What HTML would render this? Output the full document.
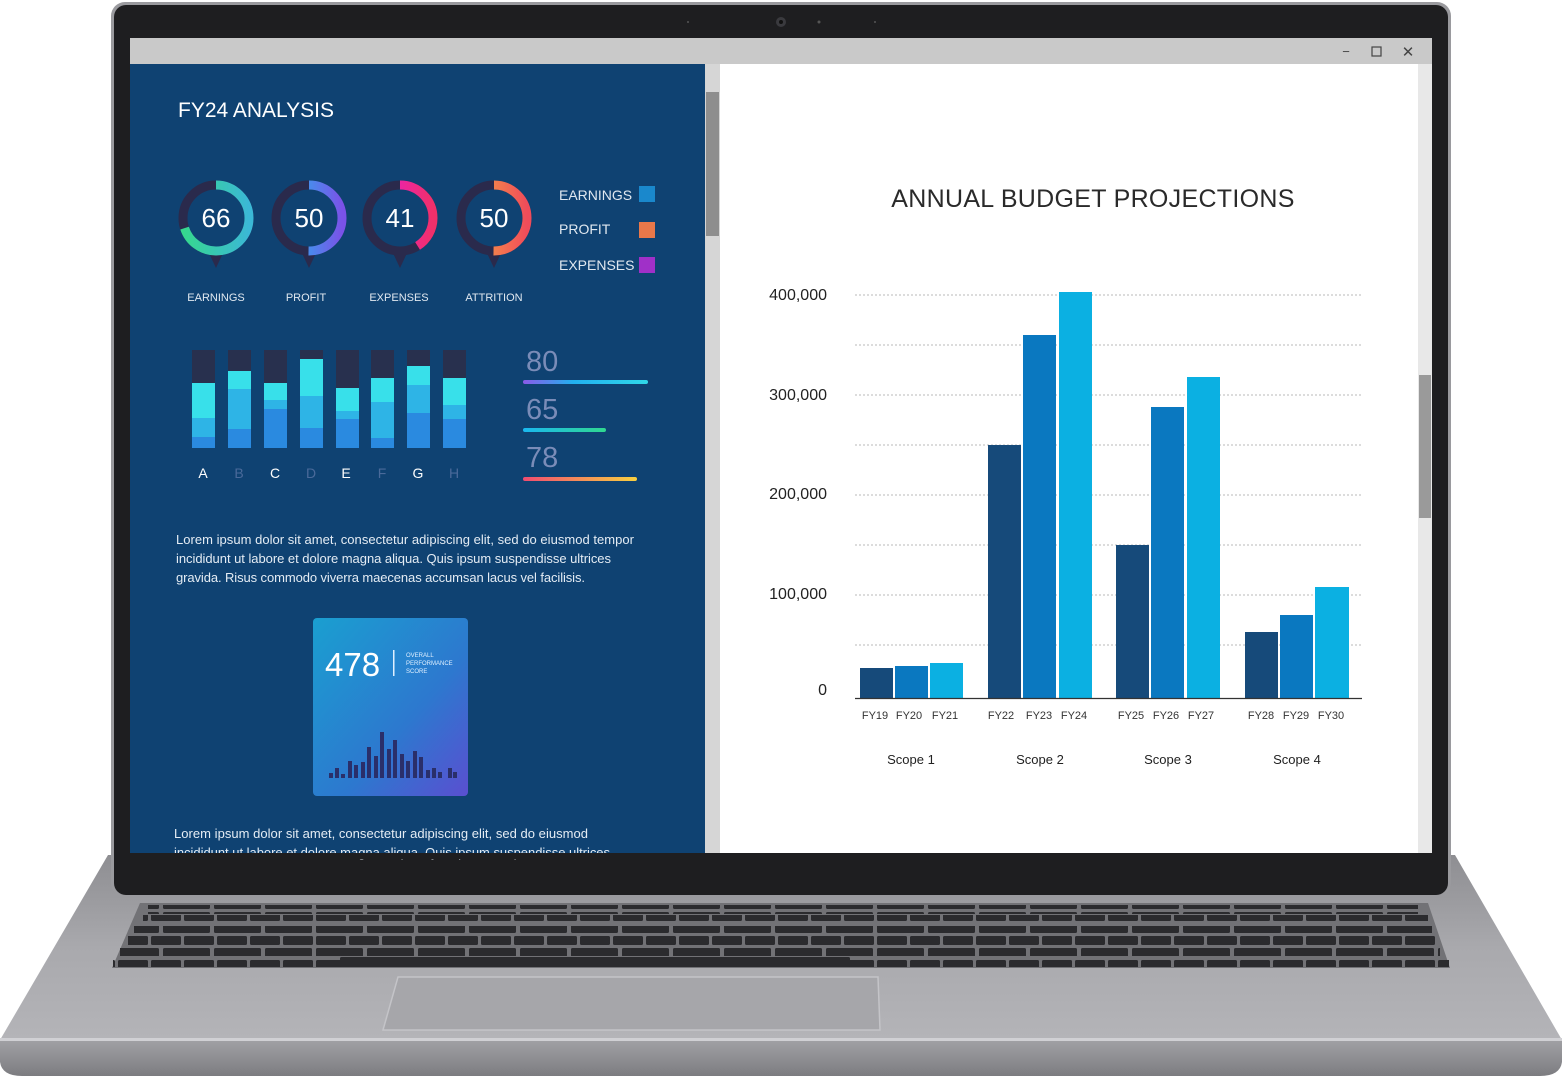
<!DOCTYPE html>
<html><head><meta charset="utf-8"><style>
html,body{margin:0;padding:0;background:#fff;width:1562px;height:1080px;overflow:hidden}
svg{display:block}
text{font-family:"Liberation Sans",sans-serif}
</style></head><body>
<svg width="1562" height="1080" viewBox="0 0 1562 1080" xmlns="http://www.w3.org/2000/svg">
<defs>
<linearGradient id="deck" x1="0" y1="0" x2="0" y2="1"><stop offset="0" stop-color="#8e8e92"/><stop offset="0.5" stop-color="#a9a9ad"/><stop offset="1" stop-color="#b4b4b8"/></linearGradient>
<linearGradient id="lip" x1="0" y1="0" x2="0" y2="1"><stop offset="0" stop-color="#a0a0a4"/><stop offset="1" stop-color="#7c7c80"/></linearGradient>
<linearGradient id="card" x1="0" y1="0" x2="1" y2="1"><stop offset="0" stop-color="#1a9fd0"/><stop offset="0.6" stop-color="#2d78cf"/><stop offset="1" stop-color="#5a4fd0"/></linearGradient>
<linearGradient id="g1" x1="0" y1="0" x2="0" y2="1"><stop offset="0" stop-color="#36d88e"/><stop offset="1" stop-color="#3bb8d6"/></linearGradient>
<linearGradient id="g2" x1="0" y1="0" x2="0" y2="1"><stop offset="0" stop-color="#18c4f0"/><stop offset="1" stop-color="#7a52e8"/></linearGradient>
<linearGradient id="g3" x1="0" y1="0" x2="0" y2="1"><stop offset="0" stop-color="#e81ad8"/><stop offset="1" stop-color="#f0306a"/></linearGradient>
<linearGradient id="g4" x1="0" y1="0" x2="0" y2="1"><stop offset="0" stop-color="#f8b040"/><stop offset="1" stop-color="#f04c5a"/></linearGradient>
<linearGradient id="l1" x1="0" x2="1"><stop offset="0" stop-color="#8a5ae8"/><stop offset="0.4" stop-color="#22b0f0"/><stop offset="1" stop-color="#30d8e8"/></linearGradient>
<linearGradient id="l2" x1="0" x2="1"><stop offset="0" stop-color="#1ab8f0"/><stop offset="1" stop-color="#30d890"/></linearGradient>
<linearGradient id="l3" x1="0" x2="1"><stop offset="0" stop-color="#f04c70"/><stop offset="1" stop-color="#f8d040"/></linearGradient>
<pattern id="k1" x="112" y="0" width="51" height="12" patternUnits="userSpaceOnUse"><rect x="0" y="0" width="47" height="9" rx="1.5" fill="#2b2b2e"/></pattern>
<pattern id="k2" x="118" y="0" width="33" height="12" patternUnits="userSpaceOnUse"><rect x="0" y="0" width="30" height="9" rx="1.5" fill="#2b2b2e"/></pattern>
</defs>
<polygon points="108,855 1455,855 1562,1040 0,1040" fill="url(#deck)"/>
<rect x="0" y="1038" width="1562" height="3" fill="#d0d0d4"/>
<path d="M0,1041 H1562 V1062 Q1560,1076 1540,1076 H22 Q2,1076 0,1062 Z" fill="url(#lip)"/>
<g>
<polygon points="140,903 1428,903 1450,968 112,968" fill="#727276"/>
<rect x="148" y="905" width="1270" height="9" fill="url(#k1)"/>
<rect x="143" y="915" width="1285" height="9" fill="url(#k2)"/>
<rect x="134" y="926" width="1298" height="9" fill="url(#k1)"/>
<rect x="128" y="936" width="1308" height="9" fill="url(#k2)"/>
<rect x="120" y="947" width="1320" height="9" fill="url(#k1)"/>
<rect x="113" y="957" width="1336" height="10" fill="url(#k2)"/>
<rect x="340" y="957" width="510" height="10" rx="1.5" fill="#2b2b2e"/>
</g>
<polygon points="398,977 878,977 880,1030 383,1030" fill="#a6a6aa" stroke="#c4c4c8" stroke-width="1.5"/>
<rect x="111" y="2" width="1340" height="895" rx="14" fill="#9a9a9e"/>
<rect x="114" y="5" width="1334" height="890" rx="12" fill="#1e1e20"/>
<circle cx="781" cy="22" r="5" fill="#3a3a3e"/><circle cx="781" cy="22" r="2" fill="#111"/>
<circle cx="819" cy="22" r="1.5" fill="#555"/><circle cx="688" cy="22" r="1" fill="#555"/><circle cx="875" cy="22" r="1" fill="#555"/>
<rect x="130" y="38" width="1302" height="815" fill="#fff"/>
<rect x="130" y="38" width="1302" height="26" fill="#c9c9c9"/>
<text x="1346" y="56" font-size="13" fill="#444" text-anchor="middle">−</text>
<rect x="1372" y="47" width="9" height="9" fill="none" stroke="#444" stroke-width="1.2"/>
<text x="1408" y="57" font-size="15" fill="#444" text-anchor="middle">✕</text>
<rect x="130" y="64" width="575" height="789" fill="#0f4272"/>
<rect x="705" y="64" width="15" height="789" fill="#d6d6d6"/>
<rect x="706" y="92" width="13" height="144" fill="#8e8e8e"/>
<rect x="1418" y="64" width="14" height="789" fill="#e8e8e8"/>
<rect x="1419" y="375" width="12" height="143" fill="#9a9a9a"/>

<text x="178" y="117" font-size="21" fill="#fff">FY24 ANALYSIS</text>
<g fill="none" stroke-width="9">
<g transform="translate(216,218)"><path d="M-8,33 L0,50 L8,33" fill="#2a2a4c" stroke="none"/><circle r="33" stroke="#2a2a4c"/><circle r="33" stroke="url(#g1)" stroke-dasharray="145 300" transform="rotate(-90)"/></g>
<g transform="translate(309,218)"><path d="M-8,33 L0,50 L8,33" fill="#2a2a4c" stroke="none"/><circle r="33" stroke="#2a2a4c"/><circle r="33" stroke="url(#g2)" stroke-dasharray="104 300" transform="rotate(-90)"/></g>
<g transform="translate(400,218)"><path d="M-8,33 L0,50 L8,33" fill="#2a2a4c" stroke="none"/><circle r="33" stroke="#2a2a4c"/><circle r="33" stroke="url(#g3)" stroke-dasharray="85 300" transform="rotate(-90)"/></g>
<g transform="translate(494,218)"><path d="M-8,33 L0,50 L8,33" fill="#2a2a4c" stroke="none"/><circle r="33" stroke="#2a2a4c"/><circle r="33" stroke="url(#g4)" stroke-dasharray="104 300" transform="rotate(-90)"/></g>
</g>
<g font-size="26" fill="#fff" text-anchor="middle">
<text x="216" y="227">66</text><text x="309" y="227">50</text><text x="400" y="227">41</text><text x="494" y="227">50</text></g>
<g font-size="11" fill="#e0e8f0" text-anchor="middle">
<text x="216" y="301">EARNINGS</text><text x="306" y="301">PROFIT</text><text x="399" y="301">EXPENSES</text><text x="494" y="301">ATTRITION</text></g>
<g font-size="14" fill="#e0e8f0">
<text x="559" y="200">EARNINGS</text><text x="559" y="234">PROFIT</text><text x="559" y="270">EXPENSES</text></g>
<rect x="639" y="186" width="16" height="16" fill="#1a88cc"/>
<rect x="639" y="222" width="16" height="16" fill="#e8784a"/>
<rect x="639" y="257" width="16" height="16" fill="#a030c8"/>
<g>
<rect x="192" y="350" width="23" height="98" fill="#28304e"/><rect x="192" y="383" width="23" height="65" fill="#38e0ea"/><rect x="192" y="418" width="23" height="30" fill="#2eb4e6"/><rect x="192" y="437" width="23" height="11" fill="#2a8ae0"/>
<rect x="228" y="350" width="23" height="98" fill="#28304e"/><rect x="228" y="371" width="23" height="77" fill="#38e0ea"/><rect x="228" y="389" width="23" height="59" fill="#2eb4e6"/><rect x="228" y="429" width="23" height="19" fill="#2a8ae0"/>
<rect x="264" y="350" width="23" height="98" fill="#28304e"/><rect x="264" y="383" width="23" height="65" fill="#38e0ea"/><rect x="264" y="400" width="23" height="48" fill="#2eb4e6"/><rect x="264" y="409" width="23" height="39" fill="#2a8ae0"/>
<rect x="300" y="350" width="23" height="98" fill="#28304e"/><rect x="300" y="359" width="23" height="89" fill="#38e0ea"/><rect x="300" y="396" width="23" height="52" fill="#2eb4e6"/><rect x="300" y="428" width="23" height="20" fill="#2a8ae0"/>
<rect x="336" y="350" width="23" height="98" fill="#28304e"/><rect x="336" y="388" width="23" height="60" fill="#38e0ea"/><rect x="336" y="411" width="23" height="37" fill="#2eb4e6"/><rect x="336" y="419" width="23" height="29" fill="#2a8ae0"/>
<rect x="371" y="350" width="23" height="98" fill="#28304e"/><rect x="371" y="378" width="23" height="70" fill="#38e0ea"/><rect x="371" y="402" width="23" height="46" fill="#2eb4e6"/><rect x="371" y="438" width="23" height="10" fill="#2a8ae0"/>
<rect x="407" y="350" width="23" height="98" fill="#28304e"/><rect x="407" y="366" width="23" height="82" fill="#38e0ea"/><rect x="407" y="385" width="23" height="63" fill="#2eb4e6"/><rect x="407" y="413" width="23" height="35" fill="#2a8ae0"/>
<rect x="443" y="350" width="23" height="98" fill="#28304e"/><rect x="443" y="378" width="23" height="70" fill="#38e0ea"/><rect x="443" y="405" width="23" height="43" fill="#2eb4e6"/><rect x="443" y="419" width="23" height="29" fill="#2a8ae0"/>
</g>
<g font-size="14" text-anchor="middle">
<text x="203" y="478" fill="#fff">A</text><text x="239" y="478" fill="#4a6a9a">B</text><text x="275" y="478" fill="#fff">C</text><text x="311" y="478" fill="#4a6a9a">D</text><text x="346" y="478" fill="#fff">E</text><text x="382" y="478" fill="#4a6a9a">F</text><text x="418" y="478" fill="#fff">G</text><text x="454" y="478" fill="#4a6a9a">H</text></g>
<g font-size="29" fill="#7a8cb8">
<text x="526" y="371">80</text><text x="526" y="419">65</text><text x="526" y="467">78</text></g>
<rect x="523" y="380" width="125" height="4" rx="2" fill="url(#l1)"/>
<rect x="523" y="428" width="83" height="4" rx="2" fill="url(#l2)"/>
<rect x="523" y="477" width="114" height="4" rx="2" fill="url(#l3)"/>
<g font-size="13" fill="#e4ecf4">
<text x="176" y="544" textLength="458">Lorem ipsum dolor sit amet, consectetur adipiscing elit, sed do eiusmod tempor</text>
<text x="176" y="563" textLength="435">incididunt ut labore et dolore magna aliqua. Quis ipsum suspendisse ultrices</text>
<text x="176" y="582" textLength="409">gravida. Risus commodo viverra maecenas accumsan lacus vel facilisis.</text>
<text x="174" y="838" textLength="414">Lorem ipsum dolor sit amet, consectetur adipiscing elit, sed do eiusmod</text>
<text x="174" y="857" textLength="436">incididunt ut labore et dolore magna aliqua. Quis ipsum suspendisse ultrices</text>
</g>
<rect x="313" y="618" width="155" height="178" rx="4" fill="url(#card)"/>
<text x="325" y="676" font-size="33" fill="#fff">478</text>
<rect x="393" y="650" width="1.5" height="26" fill="#dfefff"/>
<g font-size="6" fill="#dfefff"><text x="406" y="657">OVERALL</text><text x="406" y="665">PERFORMANCE</text><text x="406" y="673">SCORE</text></g>
<g fill="#2a2f6a">
<rect x="329" y="773" width="4" height="5"/><rect x="335" y="768" width="4" height="10"/><rect x="341" y="774" width="4" height="4"/><rect x="348" y="761" width="4" height="17"/><rect x="354" y="765" width="4" height="13"/><rect x="361" y="762" width="4" height="16"/><rect x="367" y="747" width="4" height="31"/><rect x="374" y="756" width="4" height="22"/><rect x="380" y="732" width="4" height="46"/><rect x="387" y="749" width="4" height="29"/><rect x="393" y="740" width="4" height="38"/><rect x="400" y="754" width="4" height="24"/><rect x="406" y="761" width="4" height="17"/><rect x="413" y="751" width="4" height="27"/><rect x="419" y="757" width="4" height="21"/><rect x="426" y="770" width="4" height="8"/><rect x="432" y="768" width="4" height="10"/><rect x="438" y="772" width="4" height="6"/><rect x="448" y="768" width="4" height="10"/><rect x="453" y="772" width="4" height="6"/>
</g>
<rect x="130" y="853" width="575" height="6" fill="#1e1e20"/>

<text x="1093" y="207" font-size="25" fill="#2a2a2a" text-anchor="middle" letter-spacing="0.3">ANNUAL BUDGET PROJECTIONS</text>
<g stroke="#b8b8b8" stroke-width="1" stroke-dasharray="2 2">
<line x1="855" y1="295" x2="1362" y2="295"/><line x1="855" y1="345" x2="1362" y2="345"/><line x1="855" y1="395" x2="1362" y2="395"/><line x1="855" y1="445" x2="1362" y2="445"/><line x1="855" y1="495" x2="1362" y2="495"/><line x1="855" y1="545" x2="1362" y2="545"/><line x1="855" y1="595" x2="1362" y2="595"/><line x1="855" y1="645" x2="1362" y2="645"/>
</g>
<g font-size="16" fill="#222" text-anchor="end">
<text x="827" y="300">400,000</text><text x="827" y="400">300,000</text><text x="827" y="499">200,000</text><text x="827" y="599">100,000</text><text x="827" y="695">0</text></g>
<g>
<rect x="860" y="668" width="33" height="30" fill="#164a7a"/><rect x="895" y="666" width="33" height="32" fill="#0a78c0"/><rect x="930" y="663" width="33" height="35" fill="#0bb0e2"/>
<rect x="988" y="445" width="33" height="253" fill="#164a7a"/><rect x="1023" y="335" width="33" height="363" fill="#0a78c0"/><rect x="1059" y="292" width="33" height="406" fill="#0bb0e2"/>
<rect x="1116" y="545" width="33" height="153" fill="#164a7a"/><rect x="1151" y="407" width="33" height="291" fill="#0a78c0"/><rect x="1187" y="377" width="33" height="321" fill="#0bb0e2"/>
<rect x="1245" y="632" width="33" height="66" fill="#164a7a"/><rect x="1280" y="615" width="33" height="83" fill="#0a78c0"/><rect x="1315" y="587" width="34" height="111" fill="#0bb0e2"/>
</g>
<line x1="855" y1="698.5" x2="1362" y2="698.5" stroke="#333" stroke-width="1.2"/>
<g font-size="11" fill="#333" text-anchor="middle">
<text x="875" y="719">FY19</text><text x="909" y="719">FY20</text><text x="945" y="719">FY21</text>
<text x="1001" y="719">FY22</text><text x="1039" y="719">FY23</text><text x="1074" y="719">FY24</text>
<text x="1131" y="719">FY25</text><text x="1166" y="719">FY26</text><text x="1201" y="719">FY27</text>
<text x="1261" y="719">FY28</text><text x="1296" y="719">FY29</text><text x="1331" y="719">FY30</text></g>
<g font-size="13" fill="#222" text-anchor="middle">
<text x="911" y="764">Scope 1</text><text x="1040" y="764">Scope 2</text><text x="1168" y="764">Scope 3</text><text x="1297" y="764">Scope 4</text></g>
</svg>
</body></html>
